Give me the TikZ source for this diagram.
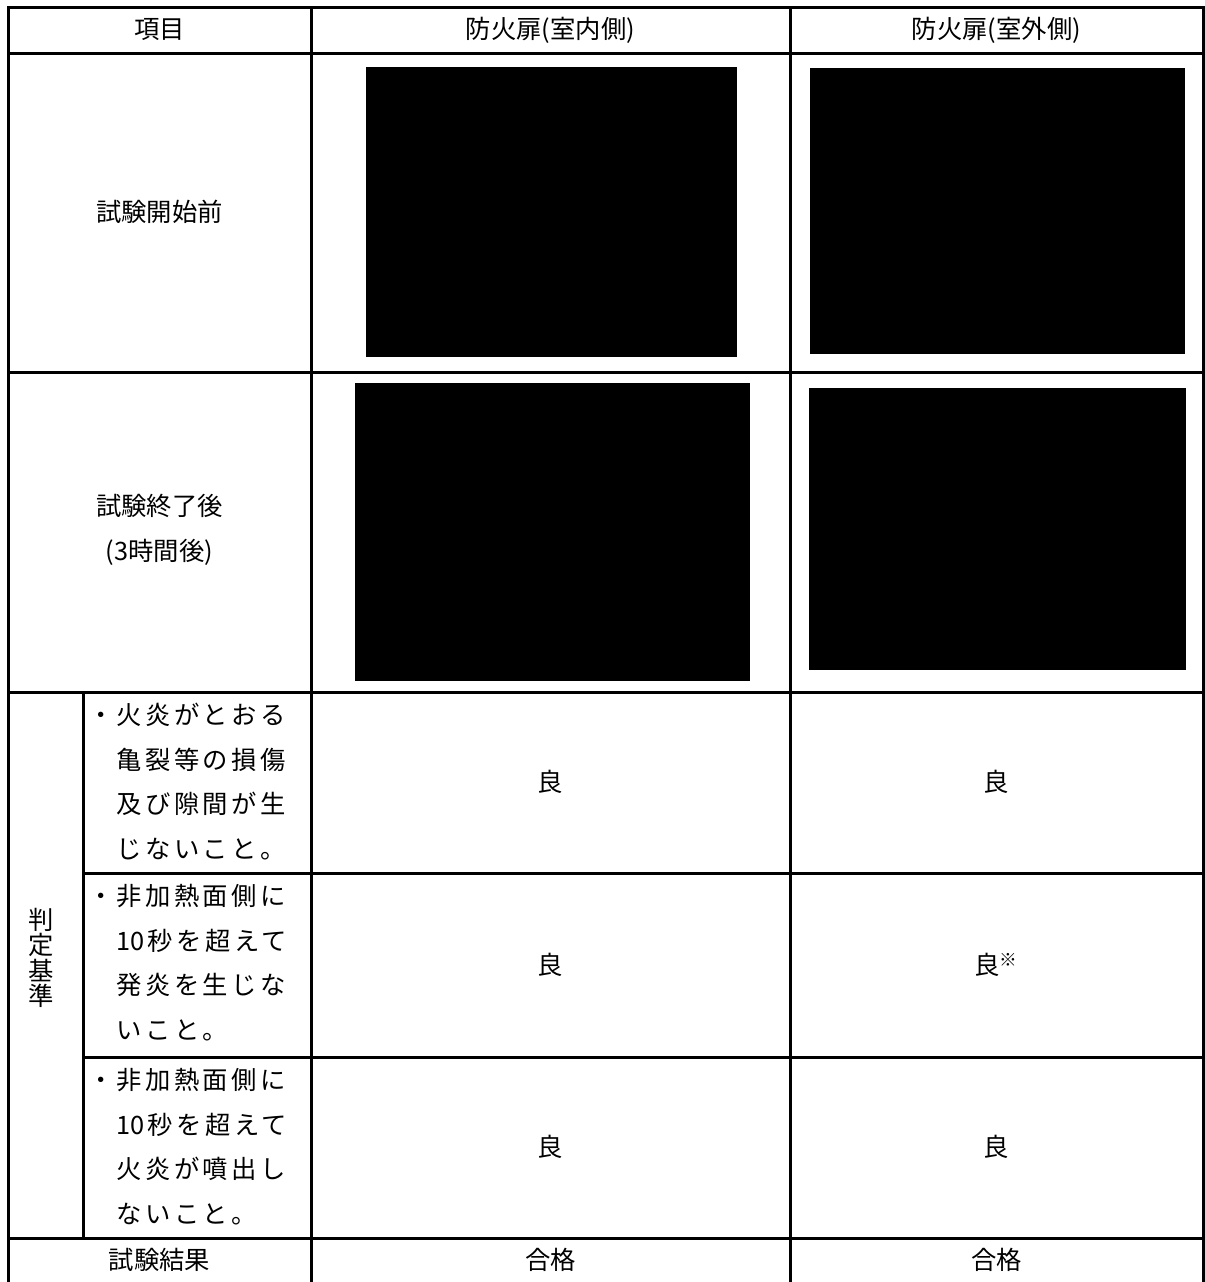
\documentclass[tikz,border=0pt]{standalone}
\usepackage{fontspec}
\setmainfont{Noto Sans CJK JP}
\newfontfamily\critfont[LetterSpace=14]{Noto Sans CJK JP}
\newfontfamily\plainfont{Noto Sans CJK JP}
\newcommand\tensec{{\plainfont 10}\kern2.5pt}
\usetikzlibrary{positioning}

\begin{document}
\begin{tikzpicture}[x=0.75pt, y=-0.75pt,
  rule/.style={line width=2.25pt},
  photo/.style={fill=black},
  cell/.style={font=\fontsize{19}{33.75}\selectfont, inner sep=0pt, align=center},
  crit/.style={font=\critfont\fontsize{19}{33.4}\selectfont, inner sep=0pt, align=left, anchor=north west}
]
\useasboundingbox (0,0) rectangle (1204,1282);

% Table frame and rules
\draw[rule] (8,7) rectangle (1203,1284);
\foreach \y in {53, 372, 692, 1238}
  \draw[rule] (8,\y) -- (1203,\y);
\foreach \y in {873, 1057}
  \draw[rule] (83,\y) -- (1203,\y);
\draw[rule] (311,7) -- (311,1284);
\draw[rule] (790,7) -- (790,1284);
\draw[rule] (83,692) -- (83,1238);

% Header row
\node[cell] (item) at (159.5, 30) {項目};
\node[cell] (inside) at (550.5, 30) {防火扉(室内側)};
\node[cell] (outside) at (996.5, 30) {防火扉(室外側)};

% Photo rows (photos blacked out)
\node[cell] (before) at (159.5, 212) {試験開始前};
\fill[photo] (366,67) rectangle (737,357);
\fill[photo] (810,68) rectangle (1185,354);

\node[cell] (after) at (159.5, 530) {試験終了後\\(3時間後)};
\fill[photo] (355,383) rectangle (750,681);
\fill[photo] (809,388) rectangle (1186,670);

% Criteria
\node[cell, font=\fontsize{19}{19}\selectfont] (criteria) at (41, 958) {判\\定\\基\\準};

\node[crit] (crack) at (116, 703) {\llap{・\kern2pt}火炎がとおる\\亀裂等の損傷\\及び隙間が生\\じないこと。};
\node[crit] (flaming) at (116, 884) {\llap{・\kern2pt}非加熱面側に\\\tensec 秒を超えて\\発炎を生じな\\いこと。};
\node[crit] (jet) at (116, 1068) {\llap{・\kern2pt}非加熱面側に\\\tensec 秒を超えて\\火炎が噴出し\\ないこと。};

\node[cell] (crackin) at (550.5, 782) {良};
\node[cell] (crackout) at (996.5, 782) {良};
\node[cell] (flamingin) at (550.5, 965) {良};
\node[cell] (flamingout) at (996.5, 965) {良\textsuperscript{※}};
\node[cell] (jetin) at (550.5, 1147) {良};
\node[cell] (jetout) at (996.5, 1147) {良};

% Result row
\node[cell] (result) at (159.5, 1260) {試験結果};
\node[cell] (resultin) at (550.5, 1260) {合格};
\node[cell] (resultout) at (996.5, 1260) {合格};

\end{tikzpicture}
\end{document}
